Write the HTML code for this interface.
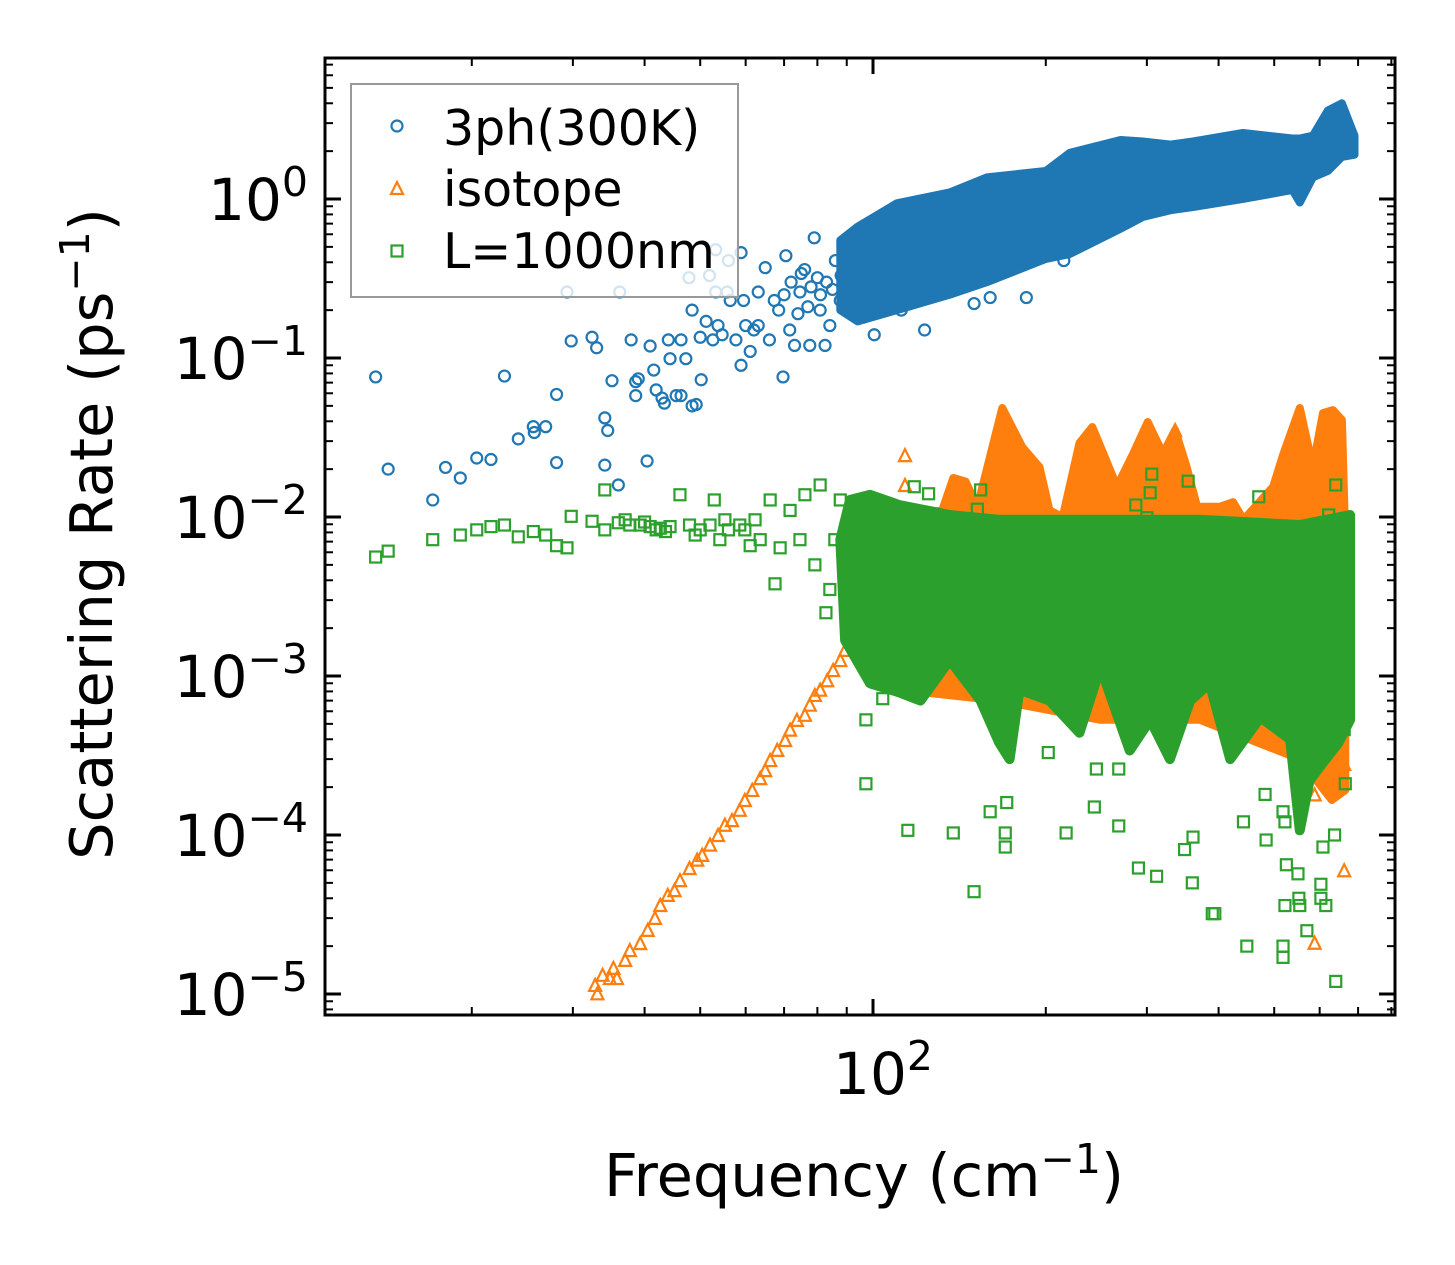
<!DOCTYPE html>
<html><head><meta charset="utf-8"><style>
html,body{margin:0;padding:0;background:#fff;}
svg{display:block;font-family:"DejaVu Sans","Liberation Sans",sans-serif;}
</style></head><body>
<svg id="chart" width="1455" height="1265" viewBox="0 0 1455 1265" xmlns="http://www.w3.org/2000/svg">
<rect width="1455" height="1265" fill="#fff"/>
<defs><clipPath id="plotclip"><rect x="325" y="58" width="1070" height="957"/></clipPath></defs>
<g id="bands" clip-path="url(#plotclip)"></g>
<g id="marks" clip-path="url(#plotclip)"></g>
<g id="axes"></g>
<g id="legend">
  <rect x="351" y="84" width="387" height="213" fill="#fff" fill-opacity="0.8" stroke="#999" stroke-width="2"/>
  <g>
    <circle cx="397" cy="126" r="5.5" fill="none" stroke="#1f77b4" stroke-width="2.2"/>
    <text x="443" y="145" font-size="49">3ph(300K)</text>
  </g>
  <g>
    <polygon points="397,182 403,194 391,194" fill="none" stroke="#ff7f0e" stroke-width="2.2"/>
    <text x="443" y="206" font-size="49">isotope</text>
  </g>
  <g>
    <rect x="391.5" y="245.5" width="11" height="11" fill="none" stroke="#2ca02c" stroke-width="2.2"/>
    <text x="443" y="268" font-size="49">L=1000nm</text>
  </g>
</g>
</svg>
<script>
// ---- data (frequency in cm^-1, rate in ps^-1) ----
const blueFreq = [13.6,14.3,17.1,18.0,19.1,20.4,21.6,22.8,24.1,25.6,25.7,26.9,28.1,28.1,29.3,29.8,32.4,33.0,34.1,34.1,34.5,35.1,36.0,36.2,37.9,38.6,38.6,39.0,40.4,40.9,41.5,41.9,42.9,43.3,44.3,45.4,46.3,47.2,47.8,48.4,49.2,50,50.2,51.2,51.9,52.6,53.2,53.7,54.6,55.7,56.4,57.7,58.9,59.5,58.9,60,61.1,62,63.1,64.9,66,67.3,68.5,69.7,70.5,71.6,73,74.6,76,77.6,79,80.9,82.5,84.1,86,87.7,89.5,91.2,93.5,95.7,100.5,112,123,150,160,215,185,63.1,53.2,56,48.4,46.3,44,72,75,78,80,83,85,88,70,74,77,81];
const blueRate = [0.076,0.020,0.0128,0.0205,0.0176,0.0235,0.023,0.077,0.031,0.037,0.034,0.037,0.022,0.059,0.26,0.128,0.135,0.116,0.042,0.0212,0.035,0.072,0.0159,0.26,0.13,0.071,0.058,0.074,0.0225,0.119,0.084,0.063,0.056,0.052,0.099,0.058,0.058,0.099,0.32,0.05,0.051,0.135,0.073,0.17,0.33,0.13,0.26,0.16,0.14,0.26,0.23,0.13,0.09,0.23,0.46,0.16,0.11,0.15,0.16,0.37,0.13,0.23,0.2,0.076,0.44,0.15,0.12,0.26,0.36,0.12,0.57,0.2,0.12,0.16,0.41,0.23,0.55,0.23,0.36,0.64,0.14,0.2,0.15,0.22,0.24,0.41,0.24,0.26,0.48,0.41,0.2,0.13,0.13,0.3,0.34,0.28,0.32,0.3,0.27,0.33,0.25,0.19,0.21,0.25];
const blueBandFreq = [87.7,94,110,136,158,200,220,270,295,330,361,441,538,554,584,620,656,690];
const blueBandHi  = [0.55,0.67,0.94,1.1,1.37,1.5,1.95,2.35,2.3,2.2,2.3,2.6,2.4,2.4,2.5,3.6,4.0,2.5];
const blueBandLo  = [0.2,0.17,0.2,0.25,0.3,0.42,0.45,0.65,0.77,0.85,0.89,1.0,1.14,0.95,1.37,1.5,1.84,1.9];

const orangeFreq = [32.8,33.1,33.8,34.8,35.3,35.8,37.0,37.7,39.3,40.5,41.7,42.6,43.9,45.1,46.1,47.9,49.4,50.4,52.0,53.7,55.2,56.8,58.6,59.8,61.6,63.6,64.9,66.2,68.1,70.3,71.7,73.7,76.1,77.6,79.2,80.9,83.2,85.2,87.7,89.4,91.2,93.0,94.9,96.8,98.8,662,588,588,662,113.7,113.7,241,336];
const orangeRate = [1.14e-5,1.01e-5,1.32e-5,1.26e-5,1.46e-5,1.26e-5,1.64e-5,1.89e-5,2.09e-5,2.53e-5,3.01e-5,3.63e-5,4.2e-5,4.5e-5,5.2e-5,6.2e-5,7.0e-5,7.5e-5,8.7e-5,1.0e-4,1.16e-4,1.24e-4,1.44e-4,1.66e-4,1.92e-4,2.28e-4,2.56e-4,2.96e-4,3.43e-4,3.96e-4,4.6e-4,5.3e-4,5.7e-4,6.6e-4,7.6e-4,8.2e-4,9.4e-4,1.09e-3,1.26e-3,1.46e-3,1.68e-3,1.95e-3,2.25e-3,2.6e-3,3.0e-3,2.8e-4,1.8e-4,2.1e-5,6.0e-5,0.0245,0.0159,0.034,0.0352];
const orangeBandUpFreq = [94.9,98.8,102.8,132,138,145,152,168,182,195,203,214,229,241,252,266,284,301,320,336,352,367,402,424,442,498,518,554,584,608,633,656,665,665];
const orangeBandUpRate = [2.25e-3,0.0054,0.0096,0.011,0.0176,0.0167,0.0116,0.0485,0.0275,0.0206,0.011,0.010,0.0292,0.0368,0.025,0.0155,0.025,0.0396,0.025,0.0352,0.0206,0.0116,0.0116,0.0124,0.0096,0.0155,0.0245,0.0485,0.0206,0.045,0.047,0.0408,0.0072,1.92e-4];
const orangeBandLoFreq = [630,554,371,249,166,111,98.8];
const orangeBandLoRate = [1.66e-4,3e-4,5.3e-4,5.3e-4,7e-4,8.2e-4,1.68e-3];

const greenFreq = [13.6,14.3,17.1,19.1,20.4,21.6,22.8,24.1,25.6,26.9,28.1,29.3,29.8,32.4,34.1,34.1,36.0,37.7,39.3,40.9,41.9,42.6,44.3,46.1,47.9,50,52,52.9,54.1,56,58.6,61.1,62.3,63.6,67.5,66.2,68.9,71.7,74.6,76.1,79.2,80.9,82.8,84.1,85.8,87.7,90.4,37,40,43.5,49,55.2,59.8,
 97.2,97.2,104,115,138,150,170,170,160,171,217,202,245,268,243,268,290,312,360,349,361,394,390,448,442,484,482,518,522,518,518,522,552,554,570,525,550,603,608,637,615,640,665,662,603,
 306,304,287,354,470,154,152,118,125,640,622,300];
const greenRate = [0.0056,0.0061,0.0072,0.0077,0.0083,0.0087,0.0089,0.0075,0.0081,0.0077,0.0066,0.0064,0.0101,0.0094,0.0148,0.0083,0.0092,0.0089,0.0089,0.0087,0.0083,0.0085,0.0087,0.0138,0.0089,0.0083,0.0089,0.0128,0.0072,0.0083,0.0089,0.0066,0.0096,0.0072,0.0038,0.0128,0.0064,0.011,0.0072,0.0138,0.005,0.0159,0.0025,0.0035,0.0072,0.0128,0.0054,0.0096,0.0093,0.0081,0.0077,0.0096,0.0083,
 5.3e-4,2.1e-4,7.2e-4,1.07e-4,1.03e-4,4.4e-5,8.4e-5,1.03e-4,1.4e-4,1.6e-4,1.03e-4,3.3e-4,2.6e-4,2.6e-4,1.5e-4,1.14e-4,6.2e-5,5.5e-5,5.0e-5,8.1e-5,9.7e-5,3.2e-5,3.2e-5,2.0e-5,1.21e-4,9.3e-5,1.8e-4,1.4e-4,1.21e-4,2.0e-5,1.7e-5,3.6e-5,4.0e-5,3.6e-5,2.5e-5,6.5e-5,5.7e-5,4.9e-5,8.4e-5,1.0e-4,3.6e-5,1.2e-5,2.1e-4,4.6e-4,4.0e-5,
 0.0186,0.0142,0.0119,0.0168,0.0134,0.0148,0.0112,0.0155,0.014,0.0159,0.0103,0.0099];
const greenBandUpFreq = [87.7,91.2,98.8,111,136,166,249,371,554,678];
const greenBandUpRate = [0.0072,0.0128,0.0138,0.0119,0.0103,0.0096,0.0096,0.0096,0.0089,0.0103];
const greenBandLoFreq = [678,647,601,576,554,533,473,419,386,357,329,304,280,249,229,203,180,173,166,154,136,121,111,98.8,89.4];
const greenBandLoRate = [5.3e-4,3.8e-4,2.7e-4,2.2e-4,1.07e-4,4.0e-4,5.5e-4,3.0e-4,9.0e-4,7.0e-4,3.0e-4,5.3e-4,3.4e-4,1.14e-3,4.4e-4,7.0e-4,8.2e-4,3.0e-4,3.8e-4,7.0e-4,1.26e-3,7.0e-4,7.9e-4,9.0e-4,1.68e-3];

const yTickExps = [0,-1,-2,-3,-4,-5];
const xTickExps = [2];

// ---- axes functions ----
const X0 = 873, XDEC = 574, Y0 = 199, YDEC = 159;
function xs(f){ return X0 + (Math.log10(f) - 2) * XDEC; }
function ys(r){ return Y0 - Math.log10(r) * YDEC; }
const L = 325, R = 1395, T = 58, B = 1015;
const NS = "http://www.w3.org/2000/svg";
function mk(tag, attrs, parent){
  const e = document.createElementNS(NS, tag);
  for (const k in attrs) e.setAttribute(k, attrs[k]);
  parent.appendChild(e); return e;
}
const bands = document.getElementById('bands');
const marks = document.getElementById('marks');
const axes = document.getElementById('axes');

function bandPoly(fu, ru, fl, rl, color, name, parent, sw){
  const pts = [];
  for (let i=0;i<fu.length;i++) pts.push(xs(fu[i]).toFixed(1)+','+ys(ru[i]).toFixed(1));
  for (let i=0;i<fl.length;i++) pts.push(xs(fl[i]).toFixed(1)+','+ys(rl[i]).toFixed(1));
  const p = mk('polygon', {points: pts.join(' '), fill: color, stroke: color, 'stroke-width': sw, 'stroke-linejoin':'round'}, parent);
  
  
}
bandPoly(blueBandFreq, blueBandHi, blueBandFreq.slice().reverse(), blueBandLo.slice().reverse(), '#1f77b4', 'band-3ph', bands, 8);
for (let i=0;i<blueFreq.length;i++){
  const c = mk('circle', {cx: xs(blueFreq[i]), cy: ys(blueRate[i]), r: 5.5, fill:'none', stroke:'#1f77b4', 'stroke-width':2.2}, marks);
  
  
}
bandPoly(orangeBandUpFreq, orangeBandUpRate, orangeBandLoFreq, orangeBandLoRate, '#ff7f0e', 'band-isotope', bands, 8);
for (let i=0;i<orangeFreq.length;i++){
  const x = xs(orangeFreq[i]), y = ys(orangeRate[i]);
  const t = mk('polygon', {points: `${x},${y-6} ${x+6},${y+6} ${x-6},${y+6}`, fill:'none', stroke:'#ff7f0e', 'stroke-width':2.2}, marks);
  
  
}
bandPoly(greenBandUpFreq, greenBandUpRate, greenBandLoFreq, greenBandLoRate, '#2ca02c', 'band-boundary', marks, 10);
for (let i=0;i<greenFreq.length;i++){
  const x = xs(greenFreq[i]), y = ys(greenRate[i]);
  const s = mk('rect', {x: x-5.5, y: y-5.5, width: 11, height: 11, fill:'none', stroke:'#2ca02c', 'stroke-width':2.2}, marks);
  
  
}

// ---- axes & ticks ----
const frame = mk('rect', {x:L, y:T, width:R-L, height:B-T, fill:'none', stroke:'#000', 'stroke-width':3}, axes);


function tick(x1,y1,x2,y2,w){ mk('line',{x1,y1,x2,y2,stroke:'#000','stroke-width':w},axes); }
for (let e=-6; e<=1; e++){
  for (let m=1;m<10;m++){
    const y = ys(m*Math.pow(10,e));
    if (y < T || y > B) continue;
    const len = m===1 ? 16 : 8, w = m===1 ? 3 : 2;
    tick(L, y, L+len, y, w); tick(R, y, R-len, y, w);
  }
}
for (let e=1; e<=2; e++){
  for (let m=1;m<10;m++){
    const x = xs(m*Math.pow(10,e));
    if (x < L || x > R) continue;
    const len = m===1 ? 16 : 8, w = m===1 ? 3 : 2;
    tick(x, B, x, B-len, w); tick(x, T, x, T+len, w);
  }
}
yTickExps.forEach(function(e){
  const t = mk('text', {x: 308, y: ys(Math.pow(10,e)) + 21, 'font-size': 58, 'text-anchor':'end'}, axes);
  
  
  const a = mk('tspan', {}, t); a.textContent = '10';
  const b = mk('tspan', {dy: -24, 'font-size': 41}, t); b.textContent = e===0 ? '0' : '\u2212' + (-e);
});
xTickExps.forEach(function(e){
  const t = mk('text', {x: xs(Math.pow(10,e)) + 10, y: 1094, 'font-size': 58, 'text-anchor':'middle'}, axes);
  
  
  const a = mk('tspan', {}, t); a.textContent = '10';
  const b = mk('tspan', {dy: -24, 'font-size': 41}, t); b.textContent = String(e);
});
(function(){
  const t = mk('text', {x: 864, y: 1196, 'font-size': 59, 'text-anchor':'middle'}, axes);
  
  
  const a = mk('tspan', {}, t); a.textContent = 'Frequency (cm';
  const b = mk('tspan', {dy: -23, 'font-size': 41}, t); b.textContent = '\u22121';
  const c = mk('tspan', {dy: 23}, t); c.textContent = ')';
  const u = mk('text', {x: 0, y: 0, 'font-size': 59, 'text-anchor':'middle', transform:'translate(112,534) rotate(-90)'}, axes);
  
  
  const d = mk('tspan', {}, u); d.textContent = 'Scattering Rate (ps';
  const f = mk('tspan', {dy: -23, 'font-size': 41}, u); f.textContent = '\u22121';
  const g = mk('tspan', {dy: 23}, u); g.textContent = ')';
})();
</script>
</body></html>
